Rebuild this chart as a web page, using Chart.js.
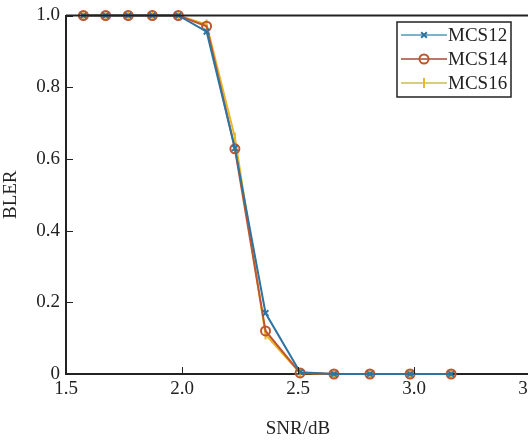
<!DOCTYPE html>
<html>
<head>
<meta charset="utf-8">
<script src="https://cdn.jsdelivr.net/npm/chart.js@4.4.1/dist/chart.umd.min.js"></script>
<style>
html,body{margin:0;padding:0;background:#fff;overflow:hidden;}
#wrap{position:relative;width:560px;height:440px;}
#probe{position:absolute;left:-1000px;top:0;font-family:'Liberation Serif';font-size:19px;}
</style>
</head>
<body>
<span id="probe">MCS 0.123456789 SNR/dB BLER</span>
<div id="wrap"><canvas id="c"></canvas></div>
<script>
const snr = [1.575, 1.671, 1.768, 1.872, 1.984, 2.106, 2.228, 2.36, 2.509, 2.655, 2.81, 2.983, 3.16];
const mcs12 = [1, 1, 1, 1, 1, 0.955, 0.63, 0.17, 0.005, 0, 0, 0, 0];
const mcs14 = [1, 1, 1, 1, 1, 0.97, 0.628, 0.12, 0.003, 0, 0, 0, 0];
const mcs16 = [1, 1, 1, 1, 1, 0.975, 0.66, 0.11, 0.003, 0, 0, 0, 0];
const seriesNames = ['MCS12', 'MCS14', 'MCS16'];
const xTicks = [1.5, 2.0, 2.5, 3.0, 3.5];
const xTickLabels = ['1.5', '2.0', '2.5', '3.0', '3.5'];
const yTicks = [0, 0.2, 0.4, 0.6, 0.8, 1.0];
const yTickLabels = ['0', '0.2', '0.4', '0.6', '0.8', '1.0'];

const FONT = "'Liberation Serif', 'Times New Roman', serif";
const AX = '#222';

function pts(ys){ return snr.map((x,i)=>({x:x, y:ys[i]})); }

const styles = [
  {color:'#2f74a0', legendLine:'#7fb0cc', point:'crossRot', rot:0, r:4},
  {color:'#c0562e', legendLine:'#b87a68', point:'circle', rot:0, r:4.5},
  {color:'#e8b828', legendLine:'#d8cc80', point:'line', rot:90, r:5}
];
const series = [mcs12, mcs14, mcs16];

function build(){
const datasets = series.map((s,i)=>({
  label: seriesNames[i],
  data: pts(s),
  borderColor: styles[i].color,
  backgroundColor: 'rgba(0,0,0,0)',
  borderWidth: 2,
  pointStyle: styles[i].point,
  pointRotation: styles[i].rot,
  pointRadius: styles[i].r,
  pointBorderWidth: 2,
  pointBorderColor: styles[i].color,
  pointBackgroundColor: 'rgba(0,0,0,0)',
  tension: 0,
  clip: 8
}));

const framePlugin = {
  id: 'frame',
  afterDraw(chart){
    const ctx = chart.ctx;
    const a = chart.chartArea;
    const xs = chart.scales.x, ys = chart.scales.y;
    ctx.save();
    ctx.strokeStyle = AX;
    ctx.lineWidth = 2;
    ctx.beginPath();
    ctx.moveTo(a.left, a.top); ctx.lineTo(chart.width, a.top);
    ctx.stroke();
    ctx.lineWidth = 1;
    xTicks.forEach(v=>{
      const px = Math.round(xs.getPixelForValue(v))+0.5;
      ctx.beginPath(); ctx.moveTo(px, a.bottom); ctx.lineTo(px, a.bottom-7); ctx.stroke();
    });
    yTicks.forEach(v=>{
      const py = Math.round(ys.getPixelForValue(v))+0.5;
      ctx.beginPath(); ctx.moveTo(a.left, py); ctx.lineTo(a.left+7, py); ctx.stroke();
    });
    const bx = 397, by = 22, bw = 114, bh = 75;
    ctx.fillStyle = '#fff';
    ctx.fillRect(bx, by, bw, bh);
    ctx.lineWidth = 1.5;
    ctx.strokeStyle = '#222';
    ctx.strokeRect(bx, by, bw, bh);
    ctx.font = '19px ' + FONT;
    ctx.textBaseline = 'middle';
    ctx.textAlign = 'left';
    chart.data.datasets.forEach((d,i)=>{
      const y = by + 13 + i*24;
      ctx.strokeStyle = styles[i].legendLine;
      ctx.lineWidth = 2;
      ctx.beginPath(); ctx.moveTo(bx+4, y); ctx.lineTo(bx+50, y); ctx.stroke();
      ctx.strokeStyle = styles[i].color;
      ctx.fillStyle = 'rgba(0,0,0,0)';
      ctx.lineWidth = 2;
      Chart.helpers.drawPoint(ctx, {pointStyle: styles[i].point, rotation: styles[i].rot, radius: styles[i].r, borderWidth: 2}, bx+27, y);
      ctx.fillStyle = '#222';
      ctx.fillText(d.label, bx+51, y+1);
    });
    ctx.restore();
  }
};

new Chart(document.getElementById('c'), {
  type: 'line',
  data: { datasets: datasets },
  options: {
    responsive: true,
    maintainAspectRatio: false,
    animation: false,
    layout: { padding: { left: 0, top: 14, right: 30, bottom: 0 } },
    plugins: { legend: { display: false }, tooltip: { enabled: false } },
    scales: {
      x: {
        type: 'linear', min: 1.5, max: 3.5,
        afterBuildTicks(s){ s.ticks = xTicks.map(v=>({value:v})); },
        afterFit(s){ s.height = 66; },
        ticks: {
          font: { family: FONT, size: 19 }, color: AX, padding: 4,
          callback(v){ const i = xTicks.indexOf(v); return i>=0 ? xTickLabels[i] : ''; }
        },
        grid: { display: false, drawTicks: false },
        border: { display: true, color: AX, width: 2 },
        title: { display: true, text: 'SNR/dB', font: { family: FONT, size: 19 }, color: AX, padding: { top: 12, bottom: 0 } }
      },
      y: {
        type: 'linear', min: 0, max: 1,
        afterBuildTicks(s){ s.ticks = yTicks.map(v=>({value:v})); },
        afterFit(s){ s.width = 66; },
        ticks: {
          font: { family: FONT, size: 19, lineHeight: 1 }, color: AX, padding: 6,
          callback(v){ const i = yTicks.findIndex(t=>Math.abs(t-v)<1e-9); return i>=0 ? yTickLabels[i] : ''; }
        },
        grid: { display: false, drawTicks: false },
        border: { display: true, color: AX, width: 2 },
        title: { display: true, text: 'BLER', font: { family: FONT, size: 19 }, color: AX, padding: { top: 0, bottom: 6 } }
      }
    }
  },
  plugins: [framePlugin]
});
}
if (document.fonts && document.fonts.load) {
  Promise.all([
    document.fonts.load("19px 'Liberation Serif'")
  ]).then(build, build);
} else { build(); }
</script>
</body>
</html>
